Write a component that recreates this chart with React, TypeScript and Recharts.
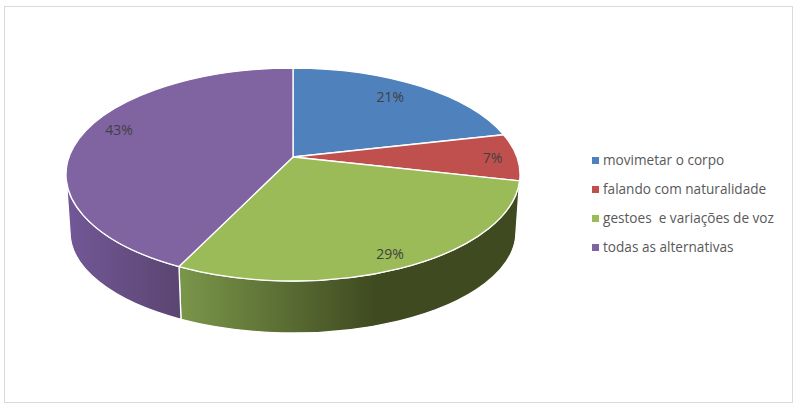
import { Cell, Legend, Pie, PieChart } from "recharts";

const categories = [
  "movimetar o corpo",
  "falando com naturalidade",
  "gestoes  e variações de voz",
  "todas as alternativas",
];
const values = [3, 1, 4, 6];

const colors = ["#4f81bd", "#c0504d", "#9bbb59", "#8064a2"];
// wall shading, left to right
const wallStops = [
  ["#3f5f8a", "#3f5f8a"],
  ["#3f2220", "#3f2220"],
  ["#7a964a", "#3f4a20"],
  ["#725897", "#5b4571"],
];
const labelRadius = [0.8, 0.9, 0.87, 0.85];
const labelNudge = [
  [-4, -2],
  [-2, 0],
  [0, 3],
  [6, -8],
];

const tableData = categories.map((name, i) => ({ name, value: values[i] }));

// the pie is tilted: the centre of the circle sits above the centre of the ellipse
const RY = 106.5;
const CENTER_SHIFT = 17.5;
const BOTTOM_RX = 223;
const BOTTOM_RY = 101;
const BOTTOM_SHIFT = 75;
const TILT = -CENTER_SHIFT / RY;
const rad = (d: number) => (d * Math.PI) / 180;

// clockwise angle from 12 o'clock on the flat circle -> unit ellipse coordinates
const project = (t: number, r = 1) => {
  const u = r * Math.sin(rad(t));
  const v = -r * Math.cos(rad(t));
  const d = 1 + TILT * v;
  return { u: (u * Math.sqrt(1 - TILT * TILT)) / d, v: (v + TILT) / d };
};

const toParam = (t: number) => {
  const { u, v } = project(t);
  const p = (Math.atan2(u, -v) * 180) / Math.PI;
  return p < 0 ? p + 360 : p;
};

const paramPoint = (p: number, cx: number, cy: number, rx: number, ry: number) => ({
  x: cx + rx * Math.sin(rad(p)),
  y: cy - ry * Math.cos(rad(p)),
});

const Slice3D = (props: any) => {
  const { cx, cy, outerRadius, startAngle, endAngle, index } = props;
  const t1 = 90 - startAngle;
  const t2 = 90 - endAngle;
  const p1 = t1 <= 0 ? 0 : toParam(t1);
  const p2 = t2 >= 360 ? 360 : toParam(t2);
  const topCy = cy + CENTER_SHIFT;
  const a = paramPoint(p1, cx, topCy, outerRadius, RY);
  const b = paramPoint(p2, cx, topCy, outerRadius, RY);
  const top = `M${cx},${cy} L${a.x},${a.y} A${outerRadius},${RY} 0 ${p2 - p1 > 180 ? 1 : 0} 1 ${b.x},${b.y} Z`;

  // only the front half of the rim shows a wall
  const w1 = Math.max(p1, 90);
  const w2 = Math.min(p2, 270);
  let wall = null;
  if (w2 > w1) {
    const ta = paramPoint(w1, cx, topCy, outerRadius, RY);
    const tb = paramPoint(w2, cx, topCy, outerRadius, RY);
    const ba = paramPoint(w1, cx, cy + BOTTOM_SHIFT, BOTTOM_RX, BOTTOM_RY);
    const bb = paramPoint(w2, cx, cy + BOTTOM_SHIFT, BOTTOM_RX, BOTTOM_RY);
    const big = w2 - w1 > 180 ? 1 : 0;
    wall = `M${ta.x},${ta.y} A${outerRadius},${RY} 0 ${big} 1 ${tb.x},${tb.y} L${bb.x},${bb.y} A${BOTTOM_RX},${BOTTOM_RY} 0 ${big} 0 ${ba.x},${ba.y} Z`;
  }
  const id = `wall-${index}`;
  const isGreen = index === 2;
  return (
    <g>
      <defs>
        <linearGradient
          id={id}
          gradientUnits="userSpaceOnUse"
          x1={isGreen ? 180 : 66}
          x2={isGreen ? 375 : 181}
          y1={0}
          y2={0}
        >
          <stop offset="0" stopColor={wallStops[index][0]} />
          <stop offset="1" stopColor={wallStops[index][1]} />
        </linearGradient>
      </defs>
      {wall && <path d={wall} fill={`url(#${id})`} stroke="#fff" strokeWidth={1.3} />}
      <path d={top} fill={colors[index]} stroke="#fff" strokeWidth={1.3} strokeLinejoin="round" />
    </g>
  );
};

const renderLabel = (props: any) => {
  const { cx, cy, outerRadius, midAngle, index, percent } = props;
  const { u, v } = project(90 - midAngle, labelRadius[index]);
  return (
    <text
      x={cx + outerRadius * u + labelNudge[index][0]}
      y={cy + CENTER_SHIFT + RY * v + labelNudge[index][1]}
      textAnchor="middle"
      dominantBaseline="central"
      fill="#404040"
      fontSize={14}
      fontFamily="'Open Sans', sans-serif"
    >
      {Math.round(percent * 100)}%
    </text>
  );
};

export default function App() {
  return (
    <div style={{ position: "absolute", left: 0, top: 0, width: 799, height: 408, background: "#fff" }}>
      <div
        style={{
          position: "absolute",
          left: 4,
          top: 6,
          width: 789,
          height: 397,
          boxSizing: "border-box",
          border: "1px solid #d9d9d9",
        }}
      />
      <PieChart
        width={799}
        height={408}
        margin={{ top: 0, right: 0, bottom: 0, left: 0 }}
        style={{ position: "absolute", left: 0, top: 0 }}
      >
        <Pie
          data={tableData}
          dataKey="value"
          nameKey="name"
          cx={293}
          cy={157}
          innerRadius={0}
          outerRadius={227}
          startAngle={90}
          endAngle={-270}
          stroke="none"
          shape={Slice3D}
          label={renderLabel}
          labelLine={false}
          isAnimationActive={false}
        >
          {tableData.map((entry, i) => (
            <Cell key={entry.name} fill={colors[i]} />
          ))}
        </Pie>
        <Legend
          layout="vertical"
          align="right"
          verticalAlign="top"
          iconType="square"
          iconSize={7}
          itemSorter={null}
          formatter={(value: string) => (
            <span style={{ color: "#595959", fontSize: 13.6, whiteSpace: "pre" }}>{value}</span>
          )}
          wrapperStyle={{
            left: 592,
            top: 145,
            width: 205,
            right: "auto",
            lineHeight: "29px",
            fontFamily: "'Open Sans', sans-serif",
          }}
        />
      </PieChart>
    </div>
  );
}
